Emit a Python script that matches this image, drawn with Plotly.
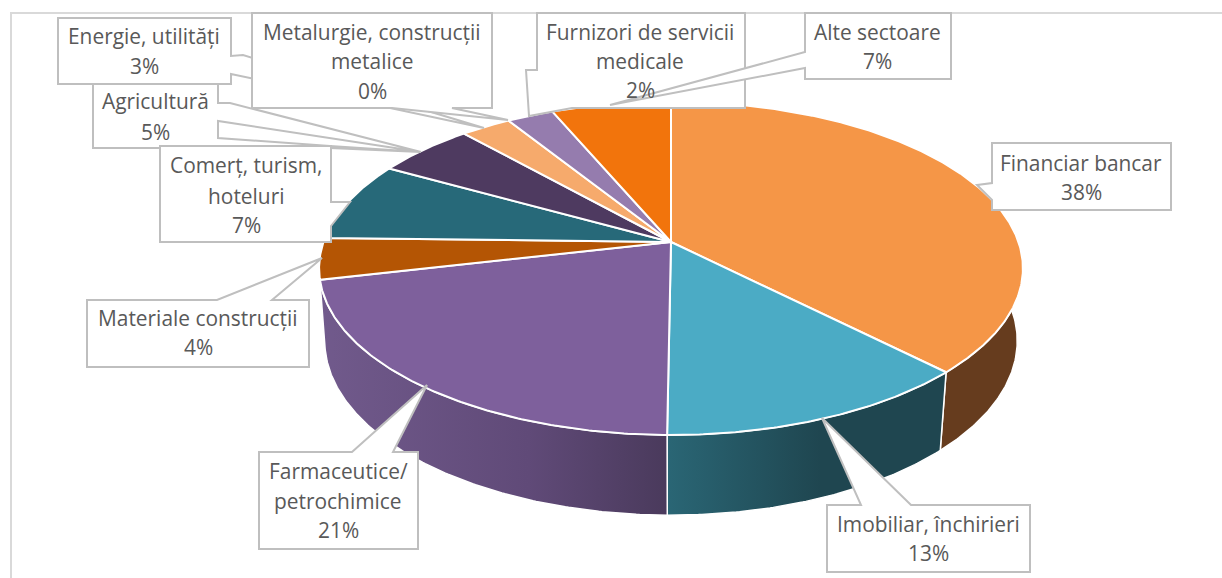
import math
import plotly.graph_objects as go

# ---- data ----
sectors = ["Financiar bancar", "Imobiliar, închirieri", "Farmaceutice/ petrochimice",
           "Materiale construcții", "Comerț, turism, hoteluri", "Agricultură",
           "Energie, utilități", "Metalurgie, construcții metalice",
           "Furnizori de servicii medicale", "Alte sectoare"]
shares = [37.6, 12.55, 21.25, 4.0, 7.7, 5.3, 2.7, 0.0, 2.5, 6.4]
percent_labels = ["38%", "13%", "21%", "4%", "7%", "5%", "3%", "0%", "2%", "7%"]

# ---- styles ----
top_colors = ["#F59647", "#4BABC5", "#7E609C", "#B45504", "#276979",
              "#4E3A60", "#F6AA6C", "#FFFFFF", "#957CAE", "#F2740C"]
side_gradients = {
    0: [[0, "#663C1E"], [1, "#663C1E"]],
    1: [[0, "#2A6675"], [0.55, "#1F4650"], [1, "#1F4650"]],
    2: [[0, "#715A8C"], [0.6, "#604A78"], [1, "#4A3A5C"]],
}
TEXT = "#595959"
BORDER = "#BFBFBF"
FRAME = "#D9D9D9"
FONT = "Open Sans"
FONT_SIZE = 20.9
TEXT_DY = -1

# ---- pie projection (perspective ellipses of the top and bottom rims) ----
CX, CY = 671, 242
TOP_RIM = dict(rx=347.5, ry=162.5, k=0.158, dy=0, warp=0)
BOTTOM_RIM = dict(rx=340, ry=168, k=0.189, dy=66, warp=1.6)


def project(deg, rim):
    deg = deg + rim["warp"] * math.sin(math.radians(2 * (deg - 90)))
    a = math.radians(deg)
    d = 1 + rim["k"] * math.cos(a)
    return (CX + rim["rx"] * math.sin(a) / d,
            CY + rim["dy"] - rim["ry"] * math.cos(a) / d)


def arc(a0, a1, rim):
    n = max(2, int(abs(a1 - a0) * 2))
    return [project(a0 + (a1 - a0) * i / n, rim) for i in range(n + 1)]


edges = [0.0]
for s in shares:
    edges.append(edges[-1] + s * 3.6)

fig = go.Figure()

# sides of the three front slices
for i, scale in side_gradients.items():
    a0 = max(edges[i], 70)
    pts = arc(a0, edges[i + 1], TOP_RIM) + arc(edges[i + 1], a0, BOTTOM_RIM)
    pts.append(pts[0])
    fig.add_trace(go.Scatter(
        x=[p[0] for p in pts], y=[p[1] for p in pts], mode="lines",
        line=dict(color="#FFFFFF", width=1.5), fill="toself",
        fillgradient=dict(type="horizontal", colorscale=scale),
        hoverinfo="skip", showlegend=False))

# top faces
for i, name in enumerate(sectors):
    if shares[i] <= 0:
        continue
    pts = [(CX, CY)] + arc(edges[i], edges[i + 1], TOP_RIM) + [(CX, CY)]
    fig.add_trace(go.Scatter(
        x=[p[0] for p in pts], y=[p[1] for p in pts], mode="lines", name=name,
        line=dict(color="#FFFFFF", width=2), fill="toself", fillcolor=top_colors[i],
        showlegend=False))

# ---- callouts (layout furniture): outline polygons, then centre / line rows ----
callouts = [
    ("Financiar bancar", [(992, 143), (1171, 143), (1171, 210), (992, 210), (992, 200), (977, 185), (992, 183)],
     1081, [(sectors[0], 164), (percent_labels[0], 193)]),
    ("Imobiliar", [(827, 505), (861, 505), (822, 418), (911, 505), (1030, 505), (1030, 572), (827, 572)],
     928, [(sectors[1], 525), (percent_labels[1], 554)]),
    ("Farmaceutice", [(259, 452), (352, 452), (427, 385), (393, 452), (418, 452), (418, 549), (259, 549)],
     338, [("Farmaceutice/", 472), ("petrochimice", 502), (percent_labels[2], 531)]),
    ("Materiale", [(87, 300), (217, 300), (322, 258), (272, 300), (309, 300), (309, 367), (87, 367)],
     198, [(sectors[3], 319), (percent_labels[3], 348)]),
    ("Agricultura", [(93, 84), (218, 84), (218, 103), (230, 103), (421, 152), (218, 121), (218, 138), (330, 146),
                     (421, 152), (330, 148), (218, 148), (93, 148)],
     155, [(sectors[5], 102), (percent_labels[5], 133)]),
    ("Comert", [(160, 146), (331, 146), (331, 202), (350, 202), (331, 226), (331, 242), (160, 242)],
     246, [("Comerț, turism,", 166), ("hoteluri", 197), (percent_labels[4], 226)]),
    ("Energie", [(58, 18), (231, 18), (231, 56), (243, 55), (484, 128), (231, 74), (231, 84), (58, 84)],
     144, [(sectors[6], 37), (percent_labels[6], 67)]),
    ("Metalurgie", [(252, 13), (492, 13), (492, 108), (452, 108), (508, 120), (392, 108), (252, 108)],
     372, [("Metalurgie, construcții", 33), ("metalice", 62), (percent_labels[7], 92)]),
    ("Furnizori", [(537, 13), (745, 13), (745, 108), (572, 108), (529, 116), (526, 70), (537, 70)],
     640, [("Furnizori de servicii", 33), ("medicale", 62), (percent_labels[8], 91)]),
    ("Alte", [(805, 13), (951, 13), (951, 79), (805, 79), (805, 68), (610, 105), (805, 52)],
     877, [(sectors[9], 33), (percent_labels[9], 62)]),
]

shapes = [
    dict(type="path", path="M 11 578 L 11 13 L 1222 13", line=dict(color=FRAME, width=2),
         fillcolor="rgba(0,0,0,0)", layer="below"),
]
annotations = []
for _, poly, cx, rows in callouts:
    path = "M " + " L ".join(f"{x} {y}" for x, y in poly) + " Z"
    shapes.append(dict(type="path", path=path, fillcolor="#FFFFFF",
                       line=dict(color=BORDER, width=2), layer="above"))
    for text, y in rows:
        annotations.append(dict(x=cx, y=y + TEXT_DY, text=text, showarrow=False,
                                xanchor="center", yanchor="middle",
                                font=dict(family=FONT, size=FONT_SIZE, color=TEXT)))

fig.update_layout(
    width=1222, height=578, margin=dict(l=0, r=0, t=0, b=0),
    paper_bgcolor="#FFFFFF", plot_bgcolor="#FFFFFF",
    xaxis=dict(range=[0, 1222], visible=False, fixedrange=True),
    yaxis=dict(range=[578, 0], visible=False, fixedrange=True),
    shapes=shapes, annotations=annotations, showlegend=False,
)
fig.write_html("out.html", config=dict(displayModeBar=False),
               post_script="document.body.style.margin='0';document.body.style.overflow='hidden';")
